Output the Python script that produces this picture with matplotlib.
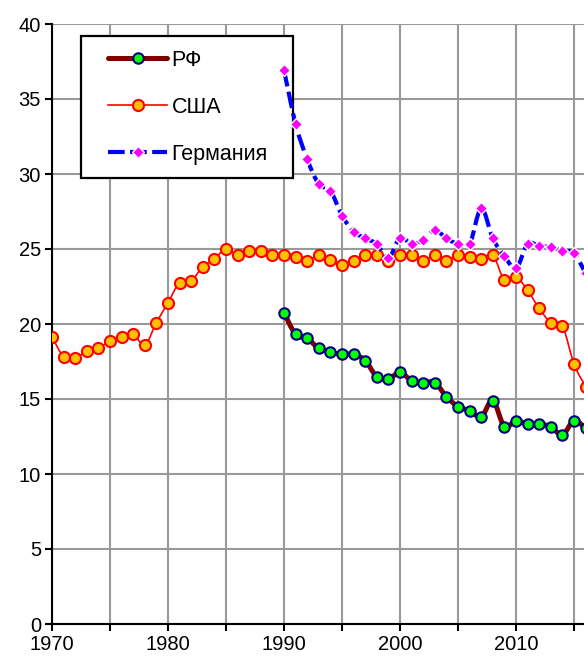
import numpy as np
import matplotlib
matplotlib.use("Agg")
import matplotlib.pyplot as plt
from matplotlib.path import Path
from matplotlib.patches import PathPatch, Rectangle
from matplotlib.lines import Line2D

plt.rcParams['font.family'] = ['Liberation Sans', 'DejaVu Sans']

# годы
years_usa = list(range(1970, 2017))
years_90 = list(range(1990, 2017))

# данные
usa = [19.15, 17.82, 17.71, 18.22, 18.38, 18.89, 19.15, 19.31, 18.6, 20.09,
       21.42, 22.76, 22.89, 23.82, 24.33, 25.02, 24.6, 24.89, 24.89, 24.6,
       24.62, 24.49, 24.22, 24.6, 24.27, 23.93, 24.22, 24.6, 24.6, 24.22,
       24.6, 24.6, 24.22, 24.6, 24.22, 24.6, 24.49, 24.33, 24.6, 22.93,
       23.16, 22.24, 21.04, 20.09, 19.87, 17.33, 15.82]
rf = [20.76, 19.31, 19.04, 18.38, 18.11, 17.98, 17.98, 17.56, 16.49, 16.33,
      16.78, 16.22, 16.09, 16.09, 15.16, 14.49, 14.22, 13.82, 14.89, 13.16,
      13.56, 13.31, 13.31, 13.16, 12.6, 13.56, 13.04]
germany = [36.93, 33.33, 30.98, 29.33, 28.89, 27.22, 26.16, 25.71, 25.33, 24.38,
           25.76, 25.33, 25.6, 26.27, 25.71, 25.33, 25.33, 27.71, 25.71, 24.53,
           23.71, 25.33, 25.2, 25.11, 24.89, 24.71, 23.38]


def smooth_path(x, y):
    # сглаженная линия как в Excel (кривые Безье)
    p = np.column_stack([x, y]).astype(float)
    n = len(p)
    verts = [p[0]]
    codes = [Path.MOVETO]
    for i in range(n - 1):
        p0 = p[i - 1] if i > 0 else p[i]
        p3 = p[i + 2] if i + 2 < n else p[i + 1]
        c1 = p[i] + (p[i + 1] - p0) / 6
        c2 = p[i + 1] - (p3 - p[i]) / 6
        verts += [c1, c2, p[i + 1]]
        codes += [Path.CURVE4] * 3
    return Path(verts, codes)


fig = plt.figure(figsize=(5.84, 6.6), dpi=100)
ax = fig.add_axes([52 / 584, 36 / 660, 532 / 584, 600 / 660])

germ_dash = (0, (4, 1.3))

# РФ
ax.add_patch(PathPatch(smooth_path(years_90, rf), fill=False, edgecolor='#800000',
                       lw=3.6, zorder=3, capstyle='round', joinstyle='round'))
ax.plot(years_90, rf, ls='none', marker='o', ms=7.5, mfc='#00FF00', mec='#000080',
        mew=1.5, zorder=4)

# США
ax.add_patch(PathPatch(smooth_path(years_usa, usa), fill=False, edgecolor='#FF0000',
                       lw=1.2, zorder=5))
ax.plot(years_usa, usa, ls='none', marker='o', ms=8, mfc='#FFC000', mec='#FF0000',
        mew=1.5, zorder=6)

# Германия
ax.add_patch(PathPatch(smooth_path(years_90, germany), fill=False, edgecolor='#0000FF',
                       lw=3, linestyle=germ_dash, zorder=7))
ax.plot(years_90, germany, ls='none', marker='D', ms=6, mfc='#FF00FF', mec='white',
        mew=1, zorder=8)

ax.set_xlim(1970, 1970 + 532 / 11.6)
ax.set_ylim(0, 40)
ax.set_xticks(range(1970, 2016, 5))
ax.set_xticklabels([str(y) if y % 10 == 0 else '' for y in range(1970, 2016, 5)])
ax.set_yticks(range(0, 41, 5))
ax.grid(True, color='#999999', lw=1.5, zorder=0)
ax.set_axisbelow(True)
for s in ['top', 'right']:
    ax.spines[s].set_visible(False)
for s in ['left', 'bottom']:
    ax.spines[s].set_linewidth(1.5)
ax.tick_params(direction='out', length=5, width=1.5, labelsize=14.5, pad=3)

# рамка легенды (под линиями данных)
ax.add_patch(Rectangle((29 / 532, 446 / 600), 212 / 532, 142 / 600,
                       transform=ax.transAxes, facecolor='white', edgecolor='black',
                       lw=1.6, zorder=2, clip_on=False))

handles = [
    Line2D([], [], color='#800000', lw=3.6, marker='o', ms=7.5, mfc='#00FF00',
           mec='#000080', mew=1.5, solid_capstyle='round'),
    Line2D([], [], color='#FF0000', lw=1.2, marker='o', ms=8, mfc='#FFC000',
           mec='#FF0000', mew=1.5),
    Line2D([], [], color='#0000FF', lw=3, ls=germ_dash, marker='D', ms=6,
           mfc='#FF00FF', mec='white', mew=1),
]
leg = ax.legend(handles, ['РФ', 'США', 'Германия'], loc='upper left',
                bbox_to_anchor=(56 / 532, 574 / 600), fontsize=15.5, frameon=False,
                numpoints=1, handlelength=2.75, handletextpad=0.2,
                labelspacing=1.2, borderpad=0, borderaxespad=0)
leg.set_zorder(10)

fig.savefig('out.png', dpi=100)
